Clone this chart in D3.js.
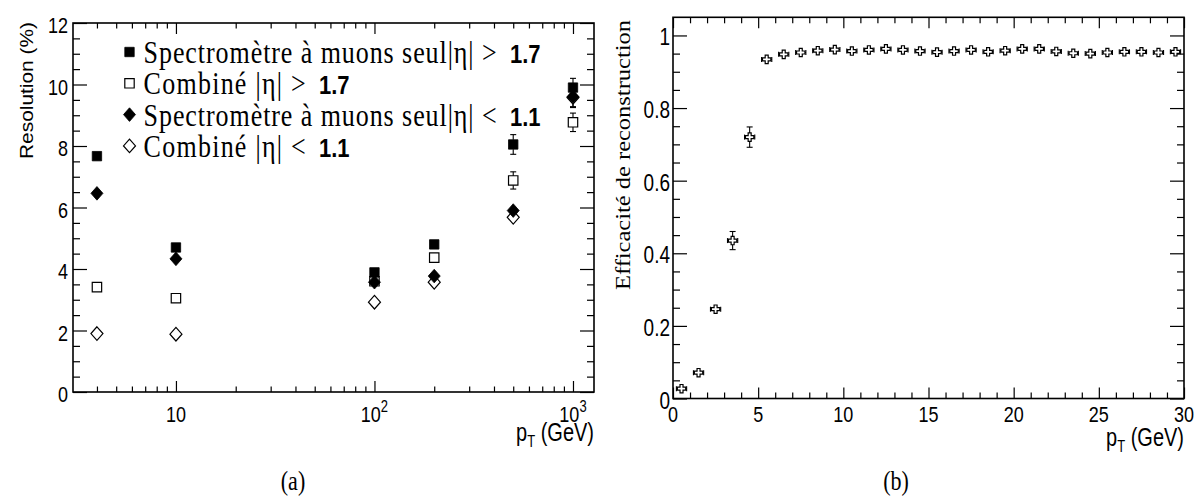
<!DOCTYPE html>
<html><head><meta charset="utf-8">
<script src="https://cdn.jsdelivr.net/npm/d3@7"></script>
<style>body{margin:0;background:#fff}svg{display:block}</style>
</head><body>
<script>
// ---------------- DATA ----------------
// (a) momentum resolution vs pT
const ptValues = [4, 10, 100, 200, 500, 1000];
const resMSHigh = [7.67, 4.70, 3.89, 4.80, 8.05, 9.90];      // filled square
const resMSHighErr = [0.12, 0.08, 0.08, 0.08, 0.32, 0.30];
const resCombHigh = [3.41, 3.05, 3.60, 4.37, 6.88, 8.77];    // open square
const resCombHighErr = [0.08, 0.06, 0.06, 0.06, 0.28, 0.30];
const resMSLow = [6.46, 4.33, 3.57, 3.77, 5.90, 9.60];       // filled diamond
const resMSLowErr = [0.22, 0.08, 0.08, 0.08, 0.20, 0.35];
const resCombLow = [1.90, 1.88, 2.92, 3.57, 5.68, 9.58];     // open diamond
const resCombLowErr = [0.05, 0.05, 0.05, 0.05, 0.12, 0.30];

const legendLabels = ["Spectromètre à muons seul|η| >", "Combiné |η| >", "Spectromètre à muons seul|η| <", "Combiné |η| <"];
const legendNumbers = ["1.7", "1.7", "1.1", "1.1"];

const logMajorTicks = [10, 100, 1000];
const logMajorLabels = [["10", ""], ["10", "2"], ["10", "3"]];
const logMinorTicks = [4, 5, 6, 7, 8, 9, 20, 30, 40, 50, 60, 70, 80, 90, 200, 300, 400, 500, 600, 700, 800, 900];
const resMajorTicks = [0, 2, 4, 6, 8, 10, 12];
const resMinorTicks = d3.range(0.5, 12, 0.5);

// (b) reconstruction efficiency vs pT
const effBinCenters = d3.range(0.5, 30, 1);
const effValues = [0.027, 0.071, 0.246, 0.435, 0.720, 0.934, 0.948, 0.953, 0.958, 0.961,
                   0.957, 0.960, 0.963, 0.960, 0.957, 0.954, 0.957, 0.960, 0.955, 0.958,
                   0.963, 0.963, 0.956, 0.951, 0.950, 0.953, 0.955, 0.955, 0.953, 0.955];
const effErrors = [0.005, 0.007, 0.012, 0.025, 0.028, 0.004, 0.004, 0.004, 0.004, 0.004,
                   0.004, 0.004, 0.004, 0.004, 0.004, 0.004, 0.004, 0.004, 0.004, 0.004,
                   0.004, 0.004, 0.004, 0.004, 0.004, 0.004, 0.004, 0.004, 0.004, 0.004];
const effXErr = 0.3;
const effMajorX = [0, 5, 10, 15, 20, 25, 30];
const effMinorX = d3.range(1, 30, 1).filter(v => v % 5 !== 0);
const effMajorY = [0, 0.2, 0.4, 0.6, 0.8, 1];
const effMajorYLabels = ["0", "0.2", "0.4", "0.6", "0.8", "1"];
const effMinorY = d3.range(0.05, 1.04, 0.05).filter(v => Math.abs(v / 0.2 - Math.round(v / 0.2)) > 0.01);

// ---------------- DRAWING ----------------
const W = 1196, H = 498;
const svg = d3.select("body").append("svg").attr("width", W).attr("height", H);
const SANS = "'Liberation Sans', Arial, Helvetica, sans-serif";
const SERIF = "'Liberation Serif', 'Times New Roman', serif";
const SY = 1.25;

function txt(g, x, y, str, o = {}) {
  const t = g.append("text")
    .attr("transform", `translate(${x},${y}) scale(1,${o.sy ?? SY})`)
    .attr("font-family", o.family || SANS)
    .attr("font-size", o.size || 18)
    .attr("text-anchor", o.anchor || "start")
    .attr("fill", "#000");
  if (o.weight) t.attr("font-weight", o.weight);
  if (str != null) t.text(str);
  return t;
}

function tickSet(g, axisFn, scale, values, size, pos) {
  g.append("g").attr("transform", pos)
    .call(axisFn(scale).tickValues(values).tickSize(size).tickFormat(""))
    .call(s => s.select(".domain").remove())
    .call(s => s.selectAll("text").remove())
    .selectAll("line").attr("stroke", "#000").attr("stroke-width", 1.2);
}

const shapes = {
  square: { hh: 4.7, path: (x, y) => { const s = 4.7; return `M${x - s},${y - s}H${x + s}V${y + s}H${x - s}Z`; } },
  diamond: { hh: 6.8, path: (x, y) => { const w = 6, h = 6.8; return `M${x},${y - h}L${x + w},${y}L${x},${y + h}L${x - w},${y}Z`; } },
  cross: { hh: 4.2, path: (x, y) => { const s = 4.2, a = 1.5;
    return `M${x - a},${y - s}H${x + a}V${y - a}H${x + s}V${y + a}H${x + a}V${y + s}H${x - a}V${y + a}H${x - s}V${y - a}H${x - a}Z`; } }
};

function marker(g, shape, x, y, filled) {
  g.append("path").attr("d", shapes[shape].path(x, y))
    .attr("fill", filled ? "#000" : "none")
    .attr("stroke", "#000").attr("stroke-width", filled ? 0.8 : 1.2);
}

function vErr(g, x, yc, yTop, yBot, hh) {
  const cap = 3;
  if (yc - yTop > hh + 0.5) {
    g.append("line").attr("x1", x).attr("x2", x).attr("y1", yTop).attr("y2", yc - hh).attr("stroke", "#000").attr("stroke-width", 1.1);
    g.append("line").attr("x1", x - cap).attr("x2", x + cap).attr("y1", yTop).attr("y2", yTop).attr("stroke", "#000").attr("stroke-width", 1.1);
  }
  if (yBot - yc > hh + 0.5) {
    g.append("line").attr("x1", x).attr("x2", x).attr("y1", yc + hh).attr("y2", yBot).attr("stroke", "#000").attr("stroke-width", 1.1);
    g.append("line").attr("x1", x - cap).attr("x2", x + cap).attr("y1", yBot).attr("y2", yBot).attr("stroke", "#000").attr("stroke-width", 1.1);
  }
}

// ===== Panel (a) =====
const A = { x0: 73, x1: 594, y0: 23, y1: 392 };
const xA = d3.scaleLog().domain([3.03, 1276]).range([A.x0, A.x1]);
const yA = d3.scaleLinear().domain([0, 12]).range([A.y1, A.y0]);
const gA = svg.append("g");

tickSet(gA, d3.axisBottom, xA, logMinorTicks, -5.5, `translate(0,${A.y1})`);
tickSet(gA, d3.axisBottom, xA, logMajorTicks, -11, `translate(0,${A.y1})`);
tickSet(gA, d3.axisTop, xA, logMinorTicks, -5.5, `translate(0,${A.y0})`);
tickSet(gA, d3.axisTop, xA, logMajorTicks, -11, `translate(0,${A.y0})`);
tickSet(gA, d3.axisLeft, yA, resMinorTicks.filter(v => v % 2 !== 0), -7, `translate(${A.x0},0)`);
tickSet(gA, d3.axisLeft, yA, resMajorTicks, -14, `translate(${A.x0},0)`);
tickSet(gA, d3.axisRight, yA, resMinorTicks.filter(v => v % 2 !== 0), -7, `translate(${A.x1},0)`);
tickSet(gA, d3.axisRight, yA, resMajorTicks, -14, `translate(${A.x1},0)`);
gA.append("rect").attr("x", A.x0).attr("y", A.y0).attr("width", A.x1 - A.x0).attr("height", A.y1 - A.y0)
  .attr("fill", "none").attr("stroke", "#000").attr("stroke-width", 1.6);

resMajorTicks.forEach(v => txt(gA, A.x0 - 5, yA(v) + 10, String(v), { anchor: "end", size: 18 }));
logMajorTicks.forEach((v, i) => {
  const t = txt(gA, xA(v), A.y1 + 30, null, { anchor: "middle", size: 18 });
  t.append("tspan").text(logMajorLabels[i][0]);
  if (logMajorLabels[i][1]) t.append("tspan").attr("font-size", 13).attr("dy", -8).text(logMajorLabels[i][1]);
});
{
  const t = txt(gA, A.x1, 441, null, { anchor: "end", size: 20 });
  t.append("tspan").text("p");
  t.append("tspan").attr("font-size", 13).attr("dy", 5).text("T");
  t.append("tspan").attr("dy", -5).text(" (GeV)");
}
gA.append("text").attr("transform", "translate(33,22) rotate(-90)")
  .attr("font-family", SANS).attr("font-size", 19).attr("text-anchor", "end")
  .attr("textLength", 137).attr("lengthAdjust", "spacingAndGlyphs").text("Resolution (%)");

const seriesA = [
  { vals: resMSHigh, errs: resMSHighErr, shape: "square", filled: true },
  { vals: resCombHigh, errs: resCombHighErr, shape: "square", filled: false },
  { vals: resMSLow, errs: resMSLowErr, shape: "diamond", filled: true },
  { vals: resCombLow, errs: resCombLowErr, shape: "diamond", filled: false }
];
seriesA.forEach(s => {
  ptValues.forEach((p, i) => {
    const x = xA(p), y = yA(s.vals[i]);
    vErr(gA, x, y, yA(s.vals[i] + s.errs[i]), yA(s.vals[i] - s.errs[i]), shapes[s.shape].hh);
    marker(gA, s.shape, x, y, s.filled);
  });
});

// legend
seriesA.forEach((s, i) => {
  const my = 52 + 31.3 * i;
  marker(gA, s.shape, 129.5, my, s.filled);
  const long = i % 2 === 0;
  txt(gA, 143.6, my + 11, legendLabels[i], { family: SERIF, size: 26, sy: 1.2 })
    .attr("textLength", long ? 353 : 162).attr("lengthAdjust", "spacing");
  txt(gA, long ? 510 : 319, my + 11, legendNumbers[i], { size: 22, weight: "bold", sy: 1.2 });
});

txt(gA, 293, 490, "(a)", { family: SERIF, size: 22, anchor: "middle" });

// ===== Panel (b) =====
const B = { x0: 673, x1: 1184, y0: 17.3, y1: 398.5 };
const xB = d3.scaleLinear().domain([0, 30]).range([B.x0, B.x1]);
const yB = d3.scaleLinear().domain([0, 1.05]).range([B.y1, B.y0]);
const gB = svg.append("g");

tickSet(gB, d3.axisBottom, xB, effMinorX, -6, `translate(0,${B.y1})`);
tickSet(gB, d3.axisBottom, xB, effMajorX, -11, `translate(0,${B.y1})`);
tickSet(gB, d3.axisTop, xB, effMinorX, -6, `translate(0,${B.y0})`);
tickSet(gB, d3.axisTop, xB, effMajorX, -11, `translate(0,${B.y0})`);
tickSet(gB, d3.axisLeft, yB, effMinorY, -7, `translate(${B.x0},0)`);
tickSet(gB, d3.axisLeft, yB, effMajorY, -14, `translate(${B.x0},0)`);
tickSet(gB, d3.axisRight, yB, effMinorY, -7, `translate(${B.x1},0)`);
tickSet(gB, d3.axisRight, yB, effMajorY, -14, `translate(${B.x1},0)`);
gB.append("rect").attr("x", B.x0).attr("y", B.y0).attr("width", B.x1 - B.x0).attr("height", B.y1 - B.y0)
  .attr("fill", "none").attr("stroke", "#000").attr("stroke-width", 1.6);

effMajorY.forEach((v, i) => txt(gB, B.x0 - 3, yB(v) + 10, effMajorYLabels[i], { anchor: "end", size: 19 }));
effMajorX.forEach(v => txt(gB, xB(v), B.y1 + 23, String(v), { anchor: "middle", size: 18 }));
{
  const t = txt(gB, B.x1, 446, null, { anchor: "end", size: 20 });
  t.append("tspan").text("p");
  t.append("tspan").attr("font-size", 13).attr("dy", 5).text("T");
  t.append("tspan").attr("dy", -5).text(" (GeV)");
}
gB.append("text").attr("transform", "translate(630,20) rotate(-90)")
  .attr("font-family", SERIF).attr("font-size", 20).attr("text-anchor", "end")
  .attr("textLength", 270).attr("lengthAdjust", "spacingAndGlyphs").text("Efficacité de reconstruction");

effBinCenters.forEach((c, i) => {
  const x = xB(c), y = yB(effValues[i]);
  const hh = shapes.cross.hh;
  const xl = xB(c - effXErr), xr = xB(c + effXErr);
  gB.append("line").attr("x1", xl).attr("x2", x - hh).attr("y1", y).attr("y2", y).attr("stroke", "#000").attr("stroke-width", 1.1);
  gB.append("line").attr("x1", x + hh).attr("x2", xr).attr("y1", y).attr("y2", y).attr("stroke", "#000").attr("stroke-width", 1.1);
  gB.append("line").attr("x1", xl).attr("x2", xl).attr("y1", y - 2.5).attr("y2", y + 2.5).attr("stroke", "#000").attr("stroke-width", 1.1);
  gB.append("line").attr("x1", xr).attr("x2", xr).attr("y1", y - 2.5).attr("y2", y + 2.5).attr("stroke", "#000").attr("stroke-width", 1.1);
  vErr(gB, x, y, yB(effValues[i] + effErrors[i]), yB(effValues[i] - effErrors[i]), hh);
  marker(gB, "cross", x, y, false);
});

txt(gB, 896, 490, "(b)", { family: SERIF, size: 22, anchor: "middle" });
</script>
</body></html>
